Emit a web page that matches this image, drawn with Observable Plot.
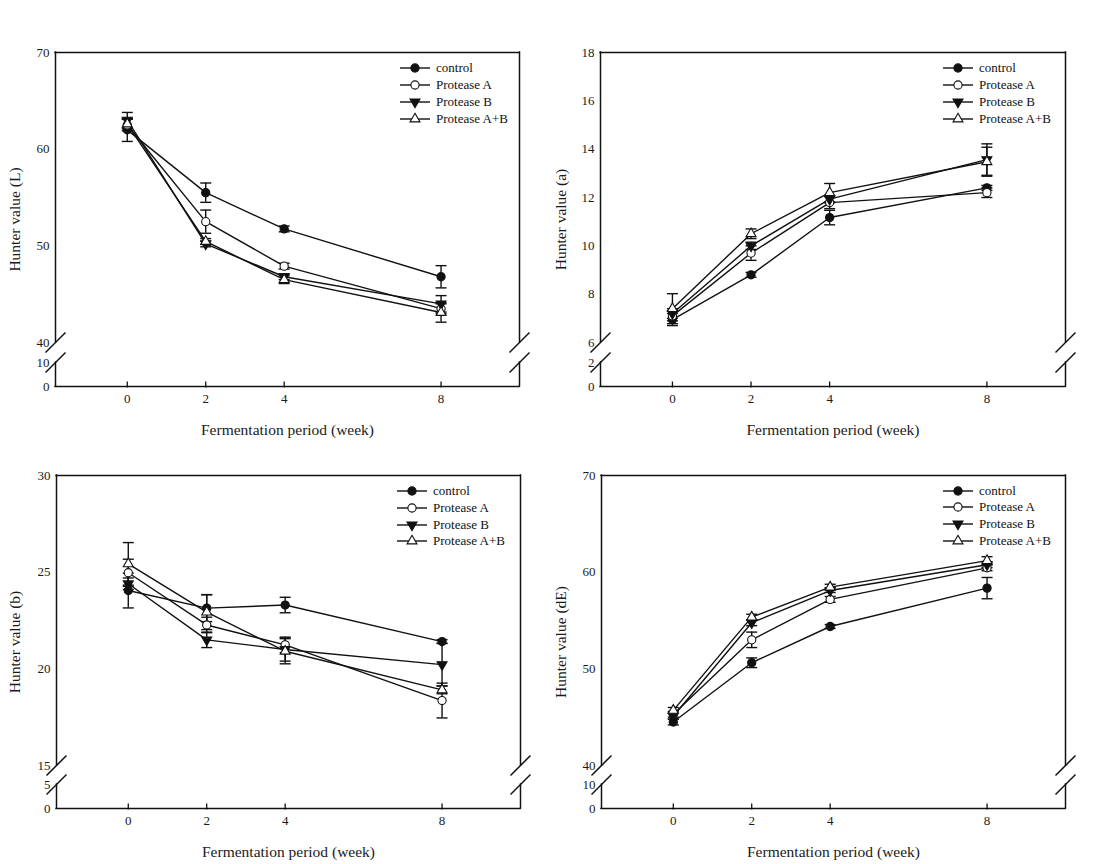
<!DOCTYPE html>
<html>
<head>
<meta charset="utf-8">
<script src="https://cdn.jsdelivr.net/npm/d3@7"></script>
<script src="https://cdn.jsdelivr.net/npm/@observablehq/plot@0.6"></script>
<style>
  body { margin: 0; background: #fff; }
  #root { position: relative; width: 1093px; height: 864px; overflow: hidden; font-family: "Liberation Serif", "Times New Roman", serif; }
  .panel { position: absolute; }
  .legend-row { position: absolute; height: 16px; display: flex; align-items: center; white-space: nowrap; font-size: 13px; color: #111; font-family: "Liberation Serif", "Times New Roman", serif; }
  .legend-row span { margin-left: 6px; }
</style>
</head>
<body>
<div id="root"></div>
<script>
// ---------- data ----------
const weeks = [0, 2, 4, 8];
const treatments = ["control", "Protease A", "Protease B", "Protease A+B"];
const xLabel = "Fermentation period (week)";

// rows: control, Protease A, Protease B, Protease A+B ; columns: weeks
const L_values = [[62.0, 55.5, 51.75, 46.8], [62.5, 52.5, 47.9, 43.5], [63.0, 50.2, 46.8, 44.0], [62.6, 50.45, 46.5, 43.1]];
const L_errors = [[1.2, 1.0, 0.3, 1.15], [0.6, 1.2, 0.3, 0.5], [0.8, 0.3, 0.3, 0.85], [0.5, 0.3, 0.4, 1.0]];
const L_ticks = [0, 10, 40, 50, 60, 70];
const L_break = [10, 40, 70];

const a_values = [[6.95, 8.8, 11.17, 12.4], [7.1, 9.7, 11.79, 12.2], [7.2, 10.0, 11.93, 13.57], [7.4, 10.5, 12.2, 13.48]];
const a_errors = [[0.25, 0.1, 0.3, 0.1], [0.2, 0.3, 0.25, 0.2], [0.2, 0.15, 0.15, 0.65], [0.62, 0.2, 0.38, 0.6]];
const a_ticks = [0, 2, 6, 8, 10, 12, 14, 16, 18];
const a_break = [2, 6, 18];

const b_values = [[24.05, 23.14, 23.3, 21.41], [24.97, 22.27, 21.24, 18.36], [24.4, 21.5, 21.0, 20.22], [25.43, 22.93, 20.91, 18.91]];
const b_errors = [[0.9, 0.7, 0.4, 0.1], [0.7, 0.4, 0.4, 0.9], [0.3, 0.4, 0.6, 1.1], [1.1, 0.9, 0.65, 0.2]];
const b_ticks = [0, 5, 15, 20, 25, 30];
const b_break = [5, 15, 30];

const dE_values = [[44.5, 50.63, 54.38, 58.35], [45.3, 53.0, 57.18, 60.45], [45.1, 54.77, 58.1, 60.77], [45.7, 55.35, 58.45, 61.2]];
const dE_errors = [[0.3, 0.5, 0.2, 1.1], [0.3, 0.8, 0.3, 0.3], [0.3, 0.3, 0.2, 0.3], [0.3, 0.3, 0.3, 0.4]];
const dE_ticks = [0, 10, 40, 50, 60, 70];
const dE_break = [10, 40, 70];

const yLabels = ["Hunter value (L)", "Hunter value (a)", "Hunter value (b)", "Hunter value (dE)"];

// ---------- symbols ----------
const sqrt3 = Math.sqrt(3);
const triangleDown = {
  draw(context, size) {
    const y = Math.sqrt(size / (sqrt3 * 3));
    context.moveTo(0, y * 2);
    context.lineTo(-sqrt3 * y, -y);
    context.lineTo(sqrt3 * y, -y);
    context.closePath();
  }
};
const capSymbol = { draw(context) { context.moveTo(-5.5, 0); context.lineTo(5.5, 0); } };
const tickUpSymbol = { draw(context) { context.moveTo(0, 1); context.lineTo(0, -5); } };

const INK = "#111";
const markerStyles = [
  { symbol: "circle", fill: INK, r: 4.1 },
  { symbol: "circle", fill: "#fff", r: 4.1 },
  { symbol: triangleDown, fill: INK, r: 3.7 },
  { symbol: "triangle", fill: "#fff", r: 3.7 }
];

// ---------- layout ----------
const panels = [
  { values: L_values, errors: L_errors, ticks: L_ticks, brk: L_break, ylabel: yLabels[0],
    left: 0, top: 0, W: 546, H: 445, ml: 55, mr: 27, mt: 52, mb: 59, gap: 20,
    legendX: 400, legendY: [68, 85, 102, 119] },
  { values: a_values, errors: a_errors, ticks: a_ticks, brk: a_break, ylabel: yLabels[1],
    left: 546, top: 0, W: 547, H: 445, ml: 54, mr: 28, mt: 52, mb: 59, gap: 20,
    legendX: 943, legendY: [68, 85, 102, 119] },
  { values: b_values, errors: b_errors, ticks: b_ticks, brk: b_break, ylabel: yLabels[2],
    left: 0, top: 423, W: 546, H: 441, ml: 56, mr: 26, mt: 52, mb: 56, gap: 19,
    legendX: 397, legendY: [491, 508, 525, 541] },
  { values: dE_values, errors: dE_errors, ticks: dE_ticks, brk: dE_break, ylabel: yLabels[3],
    left: 546, top: 423, W: 547, H: 441, ml: 55, mr: 28, mt: 52, mb: 56, gap: 19,
    legendX: 943, legendY: [491, 507, 524, 541] }
];

const xDomain = [-1.83, 10];
const root = document.getElementById("root");

function makePanel(p) {
  const [lowTop, mainBottom, mainTop] = p.brk;
  const frameH = p.H - p.mt - p.mb;
  // broken-axis transform: data value -> position along the frame (0 = bottom)
  const lowH = 24;
  const yv = d3.scaleLinear([0, lowTop, mainBottom, mainTop], [0, lowH, lowH + p.gap, frameH]);
  const xs = d3.scaleLinear(xDomain, [p.ml, p.W - p.mr]);
  const frameMidX = (p.ml + p.W - p.mr) / 2;

  const rows = [];
  treatments.forEach((t, i) => weeks.forEach((w, j) => rows.push({ t, i, week: w, v: p.values[i][j], e: p.errors[i][j] })));

  // axis-break slashes
  const breaks = [];
  for (const xv of xDomain) for (const yb of [lowTop, mainBottom]) {
    const px = xs(xv), py = yv(yb);
    breaks.push({ x1: xs.invert(px - 10), y1: py - 10, x2: xs.invert(px + 10), y2: py + 10 });
  }
  const fmt = v => String(Math.round(yv.invert(v) * 100) / 100);

  const marks = [
    // frame with gaps at the break
    Plot.ruleX(xDomain, { y1: yv(0), y2: yv(lowTop), stroke: INK, strokeWidth: 1.5, strokeLinecap: "square" }),
    Plot.ruleX(xDomain, { y1: yv(mainBottom), y2: yv(mainTop), stroke: INK, strokeWidth: 1.5, strokeLinecap: "square" }),
    Plot.ruleY([yv(0), yv(mainTop)], { stroke: INK, strokeWidth: 1.5, strokeLinecap: "square" }),
    Plot.link(breaks, { x1: "x1", y1: "y1", x2: "x2", y2: "y2", stroke: INK, strokeWidth: 1.5 }),
    // x ticks (inward)
    Plot.dot(weeks, { x: d => d, y: () => yv(0), symbol: tickUpSymbol, stroke: INK, fill: "none", strokeWidth: 1.3 }),
    Plot.axisX(weeks, { tickSize: 0, tickPadding: 7, fontSize: 13, label: null, tickFormat: d => String(d), fill: "#1a1a1a" }),
    Plot.axisY(p.ticks.map(t => yv(t)), { tickSize: 0, tickPadding: 6, fontSize: 13, label: null, tickFormat: fmt, fill: "#1a1a1a" }),
    Plot.text([xLabel], { frameAnchor: "bottom", dy: 44, lineAnchor: "middle", textAnchor: "middle", fontSize: 15.5, fill: "#1a1a1a" }),
    Plot.text([p.ylabel], { frameAnchor: "middle", dx: 15 - frameMidX, rotate: -90, textAnchor: "middle", fontSize: 15.5, fill: "#1a1a1a" }),
    // data lines
    Plot.line(rows, { x: "week", y: d => yv(d.v), z: "t", stroke: INK, strokeWidth: 1.4 }),
    // error bars
    Plot.ruleX(rows, { x: "week", y1: d => yv(d.v - d.e), y2: d => yv(d.v + d.e), stroke: INK, strokeWidth: 1.4 }),
    Plot.dot(rows, { x: "week", y: d => yv(d.v + d.e), symbol: capSymbol, stroke: INK, fill: "none", strokeWidth: 1.4 }),
    Plot.dot(rows, { x: "week", y: d => yv(d.v - d.e), symbol: capSymbol, stroke: INK, fill: "none", strokeWidth: 1.4 })
  ];
  markerStyles.forEach((m, i) => {
    marks.push(Plot.dot(rows.filter(d => d.i === i), { x: "week", y: d => yv(d.v), symbol: m.symbol, r: m.r, fill: m.fill, stroke: INK, strokeWidth: 1.1 }));
  });

  const svg = Plot.plot({
    width: p.W, height: p.H,
    marginLeft: p.ml, marginRight: p.mr, marginTop: p.mt, marginBottom: p.mb,
    style: { fontFamily: '"Liberation Serif", "Times New Roman", serif', fontSize: "13px", background: "transparent", color: INK },
    x: { domain: xDomain, axis: null },
    y: { domain: [0, frameH], axis: null },
    marks
  });
  const holder = document.createElement("div");
  holder.className = "panel";
  holder.style.left = p.left + "px";
  holder.style.top = p.top + "px";
  holder.appendChild(svg);
  root.appendChild(holder);

  // legend (HTML overlay)
  treatments.forEach((t, i) => {
    const row = document.createElement("div");
    row.className = "legend-row";
    row.style.left = p.legendX + "px";
    row.style.top = (p.legendY[i] - 8) + "px";
    const m = markerStyles[i];
    const sym = typeof m.symbol === "string" ? (m.symbol === "circle" ? d3.symbolCircle : d3.symbolTriangle) : m.symbol;
    const path = d3.symbol(sym, Math.PI * m.r * m.r)();
    row.innerHTML = `<svg width="30" height="16" style="display:block"><line x1="0" x2="30" y1="8" y2="8" stroke="${INK}" stroke-width="1.4"/><path transform="translate(15,8)" d="${path}" fill="${m.fill}" stroke="${INK}" stroke-width="1.1"/></svg><span>${t}</span>`;
    root.appendChild(row);
  });
}

panels.forEach(makePanel);
</script>
</body>
</html>
